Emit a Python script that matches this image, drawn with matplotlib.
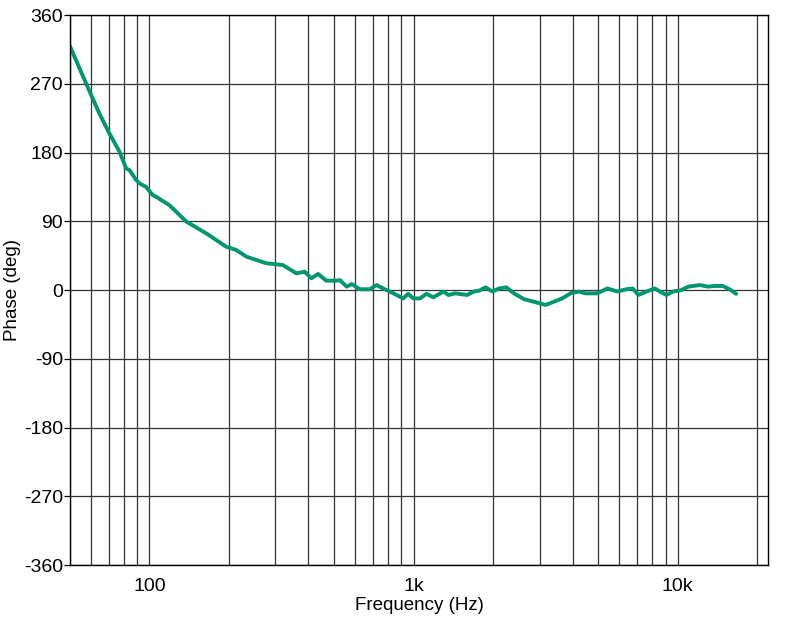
import matplotlib.pyplot as plt
from matplotlib.ticker import FixedLocator, NullFormatter

plt.rcParams['font.family'] = ['Liberation Sans', 'DejaVu Sans']
plt.rcParams['axes.unicode_minus'] = False

# phase response
freq_hz = [50, 57.5, 64.6, 70.5, 77, 81.6, 84, 89, 91.6, 97, 103, 106, 119,
           138, 164, 195, 213, 233, 277, 320, 360, 387, 410, 435, 467, 510,
           526, 558, 583, 625, 683, 724, 767, 813, 862, 914, 954, 996, 1057,
           1120, 1188, 1298, 1355, 1437, 1594, 1690, 1767, 1874, 1987, 2106,
           2246, 2400, 2620, 2945, 3162, 3400, 3655, 3930, 4225, 4480, 4960,
           5420, 5920, 6380, 6760, 7100, 7620, 8200, 8570, 9060, 9630, 10350,
           10980, 12130, 13030, 13800, 14820, 15710, 16660]
phase_deg = [319, 270.6, 231, 205, 181, 159, 157, 144, 139.6, 135, 124, 122,
             111, 89.4, 74.2, 56.7, 52.4, 43.6, 35, 32.7, 21.8, 24, 15.3, 21,
             12.2, 12.2, 13, 4.4, 7.8, 1, 1, 6.5, 2, -2, -6.5, -11, -5, -11,
             -11, -5, -9.6, -2, -6.5, -4.4, -6.5, -2, -1, 3.5, -2, 2, 3.5,
             -4.4, -12, -16.6, -19.6, -15.3, -11, -4.4, -2, -4.4, -4.4, 2, -2,
             1, 2, -6.5, -2, 2, -2, -6.5, -2, 0, 4.4, 6.5, 4.4, 5.3, 5.3, 1, -5]

y_ticks = [-360, -270, -180, -90, 0, 90, 180, 270, 360]
x_ticks = [100, 1000, 10000]
x_tick_labels = ['100', '1k', '10k']
x_grid = [m * 10 ** e for e in (1, 2, 3, 4) for m in range(1, 10)]
x_grid = [g for g in x_grid if 50 <= g <= 22000]

fig = plt.figure(figsize=(7.91, 6.28), dpi=100)
ax = fig.add_axes([0.0885, 0.1003, 0.8825, 0.8758])

ax.plot(freq_hz, phase_deg, color='#009670', lw=2.8,
        solid_capstyle='round', solid_joinstyle='round')

ax.set_xscale('log')
ax.set_xlim(50, 22000)
ax.set_ylim(-360, 360)

for g in x_grid:
    ax.axvline(g, color='#333333', lw=0.9, zorder=0)
for t in y_ticks:
    ax.axhline(t, color='#333333', lw=0.9, zorder=0)

ax.set_yticks(y_ticks)
ax.xaxis.set_major_locator(FixedLocator(x_ticks))
ax.set_xticklabels(x_tick_labels)
ax.xaxis.set_minor_formatter(NullFormatter())
ax.tick_params(axis='x', which='both', length=0, pad=9, labelsize=14)
ax.tick_params(axis='y', length=4, width=0.9, pad=1, labelsize=14)

for s in ax.spines.values():
    s.set_color('black')
    s.set_linewidth(1.0)

ax.set_xlabel('Frequency (Hz)', fontsize=13.5, labelpad=2)
ax.set_ylabel('Phase (deg)', fontsize=13.5, labelpad=2)

fig.savefig('out.png', dpi=100)
